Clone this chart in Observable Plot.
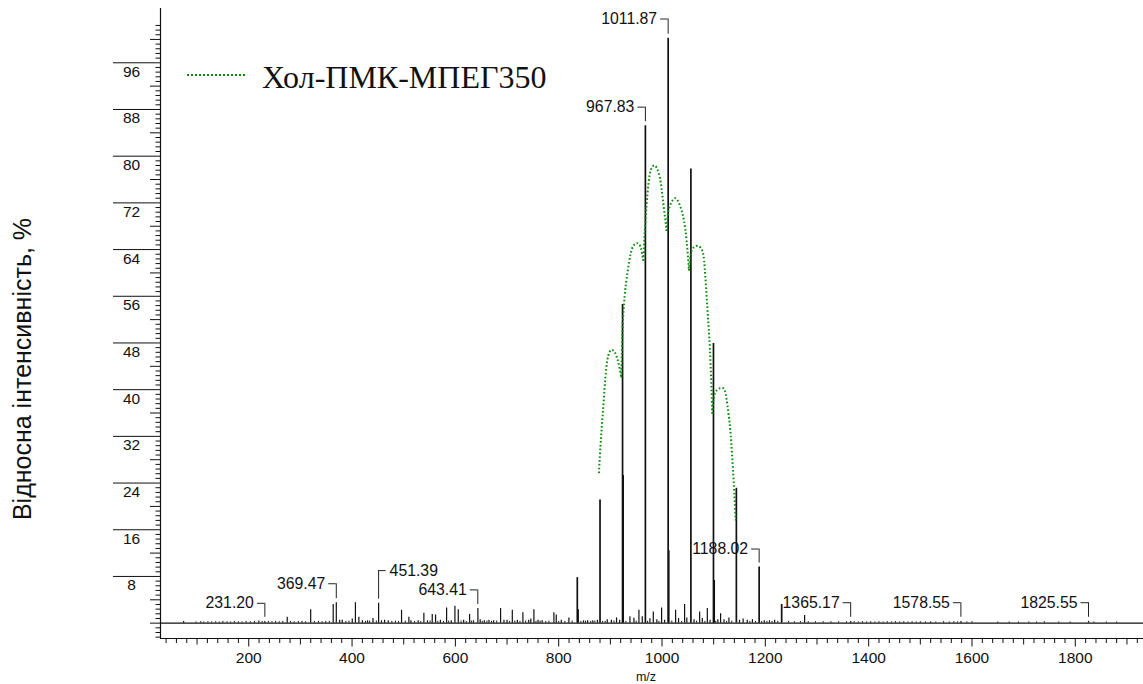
<!DOCTYPE html>
<html><head><meta charset="utf-8">
<script src="https://cdn.jsdelivr.net/npm/d3@7"></script>
<script src="https://cdn.jsdelivr.net/npm/@observablehq/plot@0.6"></script>
<style>
html,body{margin:0;padding:0;background:#fff;}
#wrap{position:relative;width:1143px;height:684px;overflow:hidden;background:#fff;}
#overlay{position:absolute;left:0;top:0;pointer-events:none;}
</style></head><body>
<div id="wrap"></div>
<script>
// ---- data ----
const mainMz  = [836.0, 837.5, 880.0, 923.6, 924.8, 967.8, 1011.9, 1013.0, 1055.9, 1099.6, 1101.0, 1143.9, 1188.0, 1231.6];
const mainInt = [7.8,   2.3,   21.1,  54.6,  25.3,  85.2,  100.2,  12.4,   77.8,   47.9,   7.3,    23.1,   9.6,    3.2];

const minorMz  = [74, 219.6, 231.2, 274.5, 319.9, 363.5, 369.5, 376, 381, 400.4, 406.5, 413.2, 420, 430, 440.5, 451.4, 457, 463, 470, 495.8, 510, 514, 528, 539, 546, 555.2, 561.7, 571, 583, 592, 599.1, 605.6, 616, 627.5, 635, 643.6, 648, 656, 665, 674, 687.5, 694, 700, 710.2, 720, 730.7, 742, 746, 752, 760, 768, 790.7, 795.3, 805, 819.7, 848, 856, 866, 875, 894, 902, 912, 918, 937.9, 945.6, 955.3, 961.8, 976.6, 983.1, 990, 999.2, 1005, 1026.3, 1032, 1043.7, 1048, 1062, 1072.8, 1078, 1087.7, 1093, 1108, 1113.4, 1120, 1129.5, 1150, 1157, 1165, 1175, 1198, 1208, 1218, 1276, 1365.2, 1578.6, 1825.6];
const minorInt = [0.3, 0.35, 0.3, 1.0, 2.3, 3.2, 3.5, 0.5, 0.5, 0.7, 3.5, 1.0, 0.4, 0.4, 0.8, 3.4, 0.4, 0.5, 0.4, 2.2, 1.0, 0.4, 0.4, 1.7, 0.4, 1.5, 1.4, 0.5, 2.6, 0.4, 2.9, 2.3, 0.5, 1.5, 0.4, 2.5, 0.6, 0.4, 0.5, 0.4, 2.5, 0.5, 0.5, 2.2, 0.5, 1.8, 0.5, 0.7, 2.3, 0.5, 0.4, 1.8, 1.4, 0.5, 0.9, 0.4, 0.4, 0.4, 0.5, 0.6, 0.5, 0.9, 0.5, 1.1, 0.85, 2.2, 1.1, 0.75, 1.9, 0.6, 2.6, 0.5, 2.2, 0.8, 3.2, 0.9, 0.6, 1.9, 0.8, 2.5, 0.5, 0.6, 1.6, 0.6, 0.9, 0.5, 0.7, 0.5, 0.6, 0.4, 0.4, 0.5, 1.3, 0.3, 0.3, 0.3];

const noiseMz  = [98,107,113,121,128,136,143,150,158,165,172,180,187,195,203,211,226,238,245,252,259,266,281,288,296,303,310,327,335,342,349,356,388,394,426,434,447,477,484,490,503,521,533,551,566,577,587,611,621,631,652,661,670,680,705,715,725,736,756,764,775,781,800,812,826,843,852,862,870,885,890,907,930,950,972,994,1019,1038,1067,1083,1104,1125,1135,1170,1181,1193,1203,1213,1224,1245,1256,1268,1283,1297,1312,1327,1342,1357,1372,1380,1388,1396,1404,1412,1420,1428,1436,1444,1452,1460,1468,1476,1484,1492,1500,1510,1520,1530,1545,1556,1565,1572,1590,1600,1650,1672,1690,1710,1725,1740,1768,1790,1836,1860,1880];
const noiseInt = [0.2,0.25,0.2,0.25,0.2,0.25,0.2,0.3,0.25,0.2,0.3,0.25,0.2,0.3,0.25,0.3,0.3,0.3,0.25,0.3,0.25,0.3,0.3,0.25,0.3,0.3,0.25,0.3,0.3,0.25,0.3,0.3,0.3,0.35,0.3,0.35,0.35,0.3,0.35,0.3,0.35,0.3,0.3,0.35,0.3,0.3,0.35,0.35,0.3,0.35,0.3,0.35,0.3,0.35,0.3,0.35,0.3,0.35,0.3,0.35,0.3,0.35,0.3,0.3,0.35,0.3,0.35,0.3,0.35,0.3,0.3,0.35,0.3,0.35,0.3,0.3,0.35,0.3,0.35,0.3,0.3,0.3,0.35,0.3,0.3,0.3,0.3,0.3,0.3,0.3,0.25,0.25,0.25,0.25,0.25,0.25,0.25,0.25,0.25,0.2,0.25,0.2,0.25,0.2,0.25,0.2,0.25,0.2,0.25,0.2,0.25,0.2,0.25,0.2,0.25,0.2,0.25,0.2,0.25,0.2,0.25,0.2,0.2,0.25,0.2,0.2,0.2,0.2,0.2,0.25,0.2,0.2,0.2,0.2,0.2];

// envelope curve (Хол-ПМК-МПЕГ350), one hump per segment
const curveHump = ["A","A","A","A","A","A","A", "B","B","B","B","B","B","B","B","B", "C","C","C","C","C","C","C","C","C","C", "D","D","D","D","D","D","D","D", "E","E","E","E","E","E","E","E","E", "F","F","F","F","F","F","F","F","F"];
const curveMz  = [877.8,882.4,887.6,894,903.8,913.5,921.2, 921.2,923.5,927.6,933,939,945,952,958.6,963.8, 963.8,966.5,970,974,979,986,992,997.5,1003.5,1008.9, 1008.9,1011.4,1016.6,1026.3,1036,1042.4,1047.6,1052.2, 1052.2,1055.4,1061.8,1070.3,1078,1082.5,1087.7,1092.8,1097.4, 1097.4,1100.5,1107,1116.8,1123.1,1129.5,1134.2,1139.3,1142.5];
const curveInt = [25.7,32.4,38.7,45,46.8,45.3,42.1, 42.1,50,56,60,63.2,64.7,65.1,64.4,62.1, 62.1,67,71.5,75.5,77.8,78.4,77.5,75.5,71.2,67.2, 67.2,70.1,71.8,72.8,71.2,69,65.5,60.4, 60.4,63.2,64.4,64.6,63.8,61,54.1,46.7,35.9, 35.9,38.7,40,40.3,39.3,35.3,30.7,23.3,17.6];

// peak annotations
const labelMz    = [231.20, 369.47, 451.39, 643.41, 967.83, 1011.87, 1188.02, 1365.17, 1578.55, 1825.55];
const labelText  = ["231.20","369.47","451.39","643.41","967.83","1011.87","1188.02","1365.17","1578.55","1825.55"];
const labelLevel = [3.4, 6.75, 9.0, 5.7, 88.4, 103.5, 12.7, 3.5, 3.5, 3.5];
const labelSide  = ["left","left","right","left","left","left","left","left","left","left"];

// tick values
const yTickLabels = [8,16,24,32,40,48,56,64,72,80,88,96];
const yMidTicks   = [0,4,12,20,28,36,44,52,60,68,76,84,92,100];
const xTickLabels = [200,400,600,800,1000,1200,1400,1600,1800];
const xMidTicks   = [100,300,500,700,900,1100,1300,1500,1700,1900];

const seriesName = "Хол-ПМК-МПЕГ350";
const yTitle = "Відносна інтенсивність, %";
const xTitle = "m/z";

// ---- build tables ----
const mainPeaks  = mainMz.map((m,i)=>({mz:m, v:mainInt[i]}));
const minorPeaks = minorMz.map((m,i)=>({mz:m, v:minorInt[i]}));
const noisePeaks = noiseMz.map((m,i)=>({mz:m, v:noiseInt[i]}));
const allPeaks = mainPeaks.concat(minorPeaks);
const curve = curveMz.map((m,i)=>({mz:m, v:curveInt[i], hump:curveHump[i]}));
function peakAt(m){ let best=null; for(const p of allPeaks){ if(Math.abs(p.mz-m)<2.5 && (!best || p.v>best.v)) best=p; } return best?best.v:0.2; }
const ann = labelMz.map((m,i)=>({mz:m, text:labelText[i], ly:labelLevel[i], side:labelSide[i], low:peakAt(m)+0.7}));
const yMinor = d3.range(-3, 129).map(i=>+(i*0.8).toFixed(1)).filter(v=>v<=102.5 && Math.abs(v/4-Math.round(v/4))>1e-6);
const xMinor = d3.range(40, 1940, 20).filter(v=>v%100!==0);

const xDomain = [29.2, 1932];
const yDomain = [-2.63, 105.3];
const ink = "#111";
const BR = 14.5; // bracket arm length in m/z units

const chart = Plot.plot({
  width: 1143, height: 684,
  marginLeft: 160, marginRight: 0, marginTop: 8, marginBottom: 46,
  x: {domain: xDomain},
  y: {domain: yDomain},
  style: {fontFamily: '"Liberation Sans", Arial, sans-serif', fontSize: "15.5px", color: ink, background: "transparent", overflow: "visible"},
  marks: [
    // y axis ticks
    Plot.axisY(yMinor, {anchor: "left", tickSize: 4.5, fill: "none", label: null, stroke: ink}),
    Plot.axisY(yMidTicks, {anchor: "left", tickSize: 10, fill: "none", label: null, stroke: ink}),
    Plot.axisY(yTickLabels, {anchor: "left", tickSize: 47, fill: "none", label: null, stroke: ink}),
    Plot.text(yTickLabels, {y: d=>d, text: d=>String(d), frameAnchor: "left", dx: -29, dy: 9, textAnchor: "middle", fill: ink, fontSize: 15.5}),
    // x axis ticks
    Plot.axisX(xMinor, {anchor: "bottom", tickSize: 5, fill: "none", label: null, stroke: ink}),
    Plot.axisX(xMidTicks, {anchor: "bottom", tickSize: 6.5, fill: "none", label: null, stroke: ink}),
    Plot.axisX(xTickLabels, {anchor: "bottom", tickSize: 8.5, fill: "none", label: null, stroke: ink}),
    Plot.axisX(xTickLabels, {anchor: "bottom", tickSize: 0, tickPadding: 13, stroke: "none", label: null, fill: ink, fontSize: 15.5, tickFormat: d=>String(d)}),
    Plot.text([xTitle], {frameAnchor: "bottom", text: d=>d, dy: 38, dx: -6, lineAnchor: "middle", fontSize: 12.5, fill: ink}),
    // axis lines
    Plot.ruleX([xDomain[0]], {stroke: ink, strokeWidth: 1.2}),
    Plot.ruleY([yDomain[0]], {stroke: ink, strokeWidth: 1.2}),
    // spectrum baseline + peaks
    Plot.ruleY([0], {stroke: ink, strokeWidth: 1.3}),
    Plot.ruleX(noisePeaks, {x: "mz", y1: 0, y2: "v", stroke: ink, strokeWidth: 1}),
    Plot.ruleX(minorPeaks, {x: "mz", y1: 0, y2: "v", stroke: ink, strokeWidth: 1.2}),
    Plot.ruleX(mainPeaks, {x: "mz", y1: 0, y2: "v", stroke: ink, strokeWidth: 1.7}),
    // annotation brackets and labels
    Plot.ruleX(ann, {x: "mz", y1: "low", y2: "ly", stroke: "#222", strokeWidth: 1}),
    Plot.ruleY(ann, {y: "ly", x1: d=>d.mz + (d.side==="right" ? BR : -BR), x2: "mz", stroke: "#222", strokeWidth: 1}),
    Plot.text(ann.filter(d=>d.side==="left"), {x: "mz", y: "ly", text: "text", textAnchor: "end", dx: -11, fontSize: 15.8, fill: ink}),
    Plot.text(ann.filter(d=>d.side==="right"), {x: "mz", y: "ly", text: "text", textAnchor: "start", dx: 11, fontSize: 15.8, fill: ink}),
    // envelope
    Plot.line(curve, {x: "mz", y: "v", z: "hump", curve: "natural", stroke: "#0a8a0a", strokeWidth: 2, strokeDasharray: "1.6,2.2", strokeLinecap: "butt"})
  ]
});
const wrap = document.getElementById("wrap");
wrap.appendChild(chart);

// legend and y-axis title overlay
const ns = "http://www.w3.org/2000/svg";
const ov = document.createElementNS(ns, "svg");
ov.setAttribute("id","overlay"); ov.setAttribute("width","1143"); ov.setAttribute("height","684");
const ln = document.createElementNS(ns, "line");
ln.setAttribute("x1","187"); ln.setAttribute("x2","247"); ln.setAttribute("y1","75"); ln.setAttribute("y2","75");
ln.setAttribute("stroke","#0a8a0a"); ln.setAttribute("stroke-width","2.2"); ln.setAttribute("stroke-dasharray","2,2");
ov.appendChild(ln);
const lt = document.createElementNS(ns, "text");
lt.setAttribute("x","262"); lt.setAttribute("y","88");
lt.setAttribute("font-family",'"Liberation Serif", "Times New Roman", serif'); lt.setAttribute("font-size","32");
lt.setAttribute("fill","#111"); lt.textContent = seriesName;
ov.appendChild(lt);
const yt = document.createElementNS(ns, "text");
yt.setAttribute("transform","translate(31,369) rotate(-90)"); yt.setAttribute("text-anchor","middle");
yt.setAttribute("font-family",'"Liberation Sans", Arial, sans-serif'); yt.setAttribute("font-size","25");
yt.setAttribute("fill","#111"); yt.textContent = yTitle;
ov.appendChild(yt);
wrap.appendChild(ov);
</script>
</body></html>
